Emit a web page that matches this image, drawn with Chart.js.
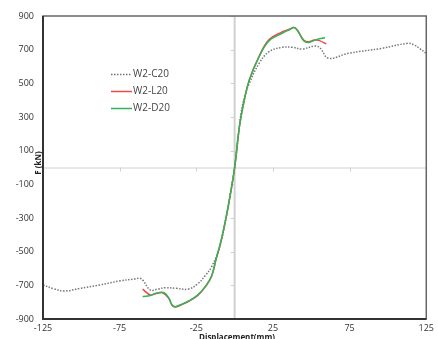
<!DOCTYPE html>
<html>
<head>
<meta charset="utf-8">
<script src="https://cdn.jsdelivr.net/npm/chart.js@4.4.1/dist/chart.umd.min.js"></script>
<style>
  html, body { margin: 0; padding: 0; background: #fff; }
  #wrap { width: 438px; height: 339px; position: relative; }
</style>
</head>
<body>
<div id="wrap"><canvas id="hysteresis" width="438" height="339"></canvas></div>
<script>
// Skeleton curve data (displacement mm, force kN)
const seriesNames = ['W2-C20', 'W2-L20', 'W2-D20'];

const c20Disp = [-125, -118, -111, -101, -88, -75, -65, -62, -60, -55, -50, -45, -38, -30, -24, -19, -15, -10, -6, -3, 0, 2, 4.2, 6.5, 9.6, 16, 22.5, 31, 37.6, 44, 52.6, 55.9, 61.2, 74, 96, 113, 117, 121, 125];
const c20Force = [-698, -720, -734, -718, -698, -674, -662, -658, -668, -728, -722, -714, -718, -722, -690, -640, -589, -480, -320, -160, 0, 150, 324, 420, 500, 619, 688, 714, 714, 704, 722, 708, 649, 678, 708, 738, 728, 705, 678];

const l20Disp = [-60, -55, -51, -47, -43, -40.8, -38.6, -34, -30, -24, -19, -15, -12, -9, -5.5, -3, 0, 3.1, 6.3, 9.6, 16, 22.5, 31, 36, 38.6, 40.8, 45, 48.3, 52, 55, 59.8];
const l20Force = [-723, -757, -748, -744, -777, -818, -828, -812, -795, -760, -708, -646, -541, -442, -294, -172, 0, 242, 401, 522, 662, 760, 805, 823, 831, 817, 758, 747, 757, 755, 734];

const d20Disp = [-60, -55, -51.5, -46, -43, -40.8, -38.6, -34, -30, -24, -19, -15, -12, -9, -5.5, -3, 0, 3.1, 6.3, 9.6, 16, 22.5, 31, 36, 38.6, 40.8, 45, 48.3, 53.7, 59];
const d20Force = [-767, -760, -747, -744, -775, -817, -827, -810, -793, -757, -705, -643, -539, -440, -292, -170, 0, 242, 401, 520, 658, 753, 797, 820, 831, 817, 753, 743, 761, 771];

const xTicks = [-125, -75, -25, 25, 75, 125];
const yTicks = [-900, -700, -500, -300, -100, 100, 300, 500, 700, 900];

function toPoints(xs, ys) {
    return xs.map((x, i) => ({ x: x, y: ys[i] }));
}

// zero lines, frame, legend and axis titles
const decorPlugin = {
    id: 'decor',
    beforeDatasetsDraw(chart) {
        const { ctx, chartArea: a, scales: { x, y } } = chart;
        const x0 = x.getPixelForValue(0);
        const y0 = y.getPixelForValue(0);
        ctx.save();
        ctx.strokeStyle = '#d0d0d0';
        ctx.lineWidth = 1;
        ctx.beginPath();
        ctx.moveTo(a.left, y0 + 0.5);
        ctx.lineTo(a.right, y0 + 0.5);
        ctx.stroke();
        xTicks.forEach(v => {
            const px = Math.round(x.getPixelForValue(v)) + 0.5;
            ctx.beginPath();
            ctx.moveTo(px, y0);
            ctx.lineTo(px, y0 + 4);
            ctx.stroke();
        });
        ctx.lineWidth = 2;
        ctx.beginPath();
        ctx.moveTo(x0, a.top);
        ctx.lineTo(x0, a.bottom);
        ctx.stroke();
        ctx.lineWidth = 1;
        yTicks.forEach(v => {
            const py = Math.round(y.getPixelForValue(v)) + 0.5;
            ctx.beginPath();
            ctx.moveTo(x0 - 4, py);
            ctx.lineTo(x0, py);
            ctx.stroke();
        });
        ctx.restore();
    },
    afterDraw(chart) {
        const { ctx, chartArea: a } = chart;
        ctx.save();
        // frame
        ctx.lineWidth = 1.5;
        ctx.strokeStyle = '#666';
        ctx.strokeRect(a.left, a.top, a.right - a.left, a.bottom - a.top);
        ctx.lineWidth = 2;
        ctx.strokeStyle = '#333';
        ctx.beginPath();
        ctx.moveTo(a.left, a.top);
        ctx.lineTo(a.left, a.bottom);
        ctx.lineTo(a.right, a.bottom);
        ctx.stroke();

        // legend inside plot
        const rows = [74, 91, 108];
        chart.data.datasets.forEach((ds, i) => {
            const yy = rows[i] + 0.5;
            ctx.strokeStyle = ds.borderColor;
            ctx.lineWidth = ds.borderWidth;
            ctx.setLineDash(ds.borderDash || []);
            ctx.beginPath();
            ctx.moveTo(111, yy);
            ctx.lineTo(132, yy);
            ctx.stroke();
            ctx.setLineDash([]);
            ctx.fillStyle = '#444';
            ctx.font = '10px "Open Sans", sans-serif';
            ctx.textBaseline = 'middle';
            ctx.textAlign = 'left';
            ctx.fillText(ds.label, 133, rows[i]);
        });

        // axis titles
        ctx.fillStyle = '#222';
        ctx.font = 'bold 8px "Open Sans", sans-serif';
        ctx.textAlign = 'center';
        ctx.textBaseline = 'middle';
        ctx.fillText('Displacement(mm)', 237, 338);
        ctx.translate(39, 163);
        ctx.rotate(-Math.PI / 2);
        ctx.fillText('F (kN)', 0, 0);
        ctx.restore();
    }
};

const ctx = document.getElementById('hysteresis').getContext('2d');
new Chart(ctx, {
    type: 'scatter',
    data: {
        datasets: [
            {
                label: seriesNames[0],
                data: toPoints(c20Disp, c20Force),
                showLine: true,
                borderColor: '#777',
                borderWidth: 1.5,
                borderDash: [1.5, 1.5],
                pointRadius: 0,
                tension: 0.4,
                order: 3
            },
            {
                label: seriesNames[1],
                data: toPoints(l20Disp, l20Force),
                showLine: true,
                borderColor: '#f04848',
                borderWidth: 1.5,
                pointRadius: 0,
                tension: 0.4,
                order: 2
            },
            {
                label: seriesNames[2],
                data: toPoints(d20Disp, d20Force),
                showLine: true,
                borderColor: '#2fb55a',
                borderWidth: 1.5,
                pointRadius: 0,
                tension: 0.4,
                order: 1
            }
        ]
    },
    options: {
        responsive: false,
        animation: false,
        layout: { padding: { top: 16, right: 8, left: 0, bottom: 0 } },
        plugins: {
            legend: { display: false },
            tooltip: { enabled: false }
        },
        scales: {
            x: {
                type: 'linear',
                min: -125,
                max: 125,
                afterBuildTicks: axis => { axis.ticks = xTicks.map(v => ({ value: v })); },
                afterFit: axis => { axis.height = 20; },
                grid: { display: false, drawTicks: false },
                border: { display: false },
                ticks: { color: '#333', font: { size: 9, family: '"Open Sans", sans-serif' }, padding: 4, maxRotation: 0 }
            },
            y: {
                min: -900,
                max: 900,
                afterBuildTicks: axis => { axis.ticks = yTicks.map(v => ({ value: v })); },
                afterFit: axis => { axis.width = 43; },
                grid: { display: false, drawTicks: false },
                border: { display: false },
                ticks: { color: '#333', font: { size: 9, family: '"Open Sans", sans-serif' }, padding: 9 }
            }
        }
    },
    plugins: [decorPlugin]
});
</script>
</body>
</html>
